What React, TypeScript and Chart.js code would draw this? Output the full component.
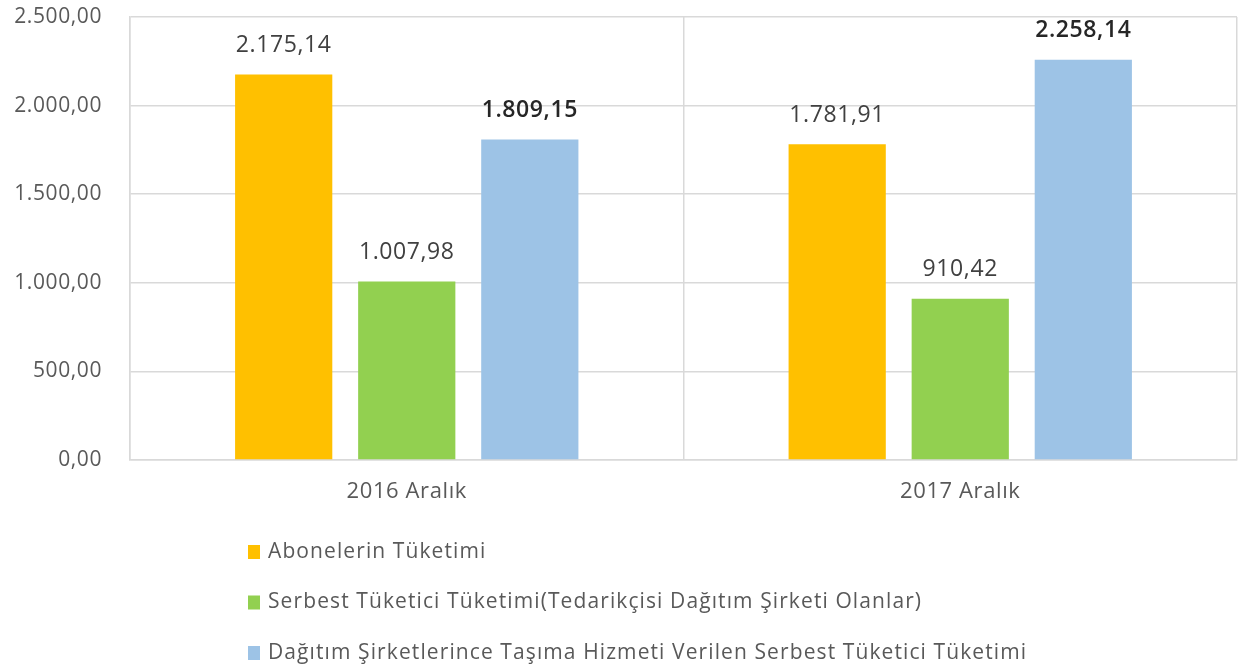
import React, { useEffect, useRef } from 'react';
import { Chart, registerables } from 'chart.js';

Chart.register(...registerables);

const categories = ['2016 Aralık', '2017 Aralık'];
const seriesNames = [
  'Abonelerin Tüketimi',
  'Serbest Tüketici Tüketimi(Tedarikçisi Dağıtım Şirketi Olanlar)',
  'Dağıtım Şirketlerince Taşıma Hizmeti Verilen Serbest Tüketici Tüketimi',
];
const abonelerValues = [2175.14, 1781.91];
const serbestValues = [1007.98, 910.42];
const dagitimValues = [1809.15, 2258.14];
const seriesColors = ['#FFC000', '#92D050', '#9DC3E6'];
const boldLabelSeries = [false, false, true];
const yMin = 0;
const yMax = 2500;
const yStep = 500;

const FONT = "'Open Sans', 'Noto Sans', sans-serif";

function fmt(v: number): string {
  const neg = v < 0;
  const fixed = Math.abs(v).toFixed(2);
  const [intPart, dec] = fixed.split('.');
  const withDots = intPart.replace(/\B(?=(\d{3})+(?!\d))/g, '.');
  return (neg ? '-' : '') + withDots + ',' + dec;
}

const spacingPlugin = {
  id: 'letterSpacing',
  beforeUpdate(chart: any) {
    chart.ctx.letterSpacing = '0.6px';
  },
  beforeDraw(chart: any) {
    chart.ctx.letterSpacing = '0.6px';
  },
};

const dataLabelPlugin = {
  id: 'dataLabels',
  afterDatasetsDraw(chart: any) {
    const ctx = chart.ctx;
    ctx.save();
    ctx.letterSpacing = '0.6px';
    ctx.textAlign = 'center';
    ctx.textBaseline = 'middle';
    chart.data.datasets.forEach((ds: any, di: number) => {
      const meta = chart.getDatasetMeta(di);
      const bold = boldLabelSeries[di];
      ctx.font = `${bold ? '600 ' : ''}23px ${FONT}`;
      ctx.fillStyle = bold ? '#262626' : '#404040';
      meta.data.forEach((el: any, i: number) => {
        ctx.fillText(fmt(ds.data[i]), el.x, el.y - 29);
      });
    });
    ctx.restore();
  },
};

const customLegendPlugin = {
  id: 'customLegend',
  afterDraw(chart: any) {
    const ctx = chart.ctx;
    const area = chart.chartArea;
    ctx.save();
    ctx.letterSpacing = '1.1px';
    ctx.textAlign = 'left';
    ctx.textBaseline = 'middle';
    ctx.font = `21px ${FONT}`;
    chart.data.datasets.forEach((ds: any, di: number) => {
      const cy = area.bottom + 92 + di * 50.5;
      ctx.fillStyle = ds.backgroundColor;
      ctx.fillRect(248, cy - 7, 12, 14);
      ctx.fillStyle = '#595959';
      ctx.fillText(ds.label, 268, cy);
    });
    ctx.restore();
  },
};

export default function App() {
  const canvasRef = useRef<HTMLCanvasElement | null>(null);

  useEffect(() => {
    document.body.style.margin = '0';
    const canvas = canvasRef.current;
    if (!canvas) return;
    const datasets = [abonelerValues, serbestValues, dagitimValues].map((vals, i) => ({
      label: seriesNames[i],
      data: vals,
      backgroundColor: seriesColors[i],
      borderWidth: 0,
      categoryPercentage: 0.667,
      barPercentage: 0.79,
    }));
    const chart = new Chart(canvas, {
      type: 'bar',
      data: { labels: categories, datasets },
      options: {
        animation: false,
        responsive: true,
        maintainAspectRatio: false,
        layout: { padding: { top: 17, right: 10, left: 0, bottom: 0 } },
        plugins: {
          legend: { display: false },
          tooltip: { enabled: false },
        },
        scales: {
          y: {
            min: yMin,
            max: yMax,
            ticks: {
              stepSize: yStep,
              callback: (v: any) => fmt(Number(v)),
              font: { family: FONT, size: 21 },
              color: '#595959',
              padding: 28,
            },
            grid: { color: '#d9d9d9', drawTicks: false, lineWidth: 1.5 },
            border: { color: '#d9d9d9', width: 1.5 },
            afterFit: (s: any) => {
              s.width = 130;
              s.paddingTop = 0;
              s.paddingBottom = 0;
            },
          },
          x: {
            offset: true,
            ticks: {
              font: { family: FONT, size: 22 },
              color: '#595959',
              padding: 19,
            },
            grid: { color: '#d9d9d9', drawTicks: false, offset: true, lineWidth: 1.5 },
            border: { color: '#d9d9d9', width: 1.5 },
            afterFit: (s: any) => {
              s.height = 212;
              s.paddingLeft = 0;
              s.paddingRight = 0;
            },
          },
        },
      },
      plugins: [spacingPlugin, dataLabelPlugin, customLegendPlugin],
    });
    return () => chart.destroy();
  }, []);

  return (
    <div style={{ position: 'absolute', left: 0, top: 0, width: 1247, height: 672, background: '#fff' }}>
      <canvas ref={canvasRef} />
    </div>
  );
}
